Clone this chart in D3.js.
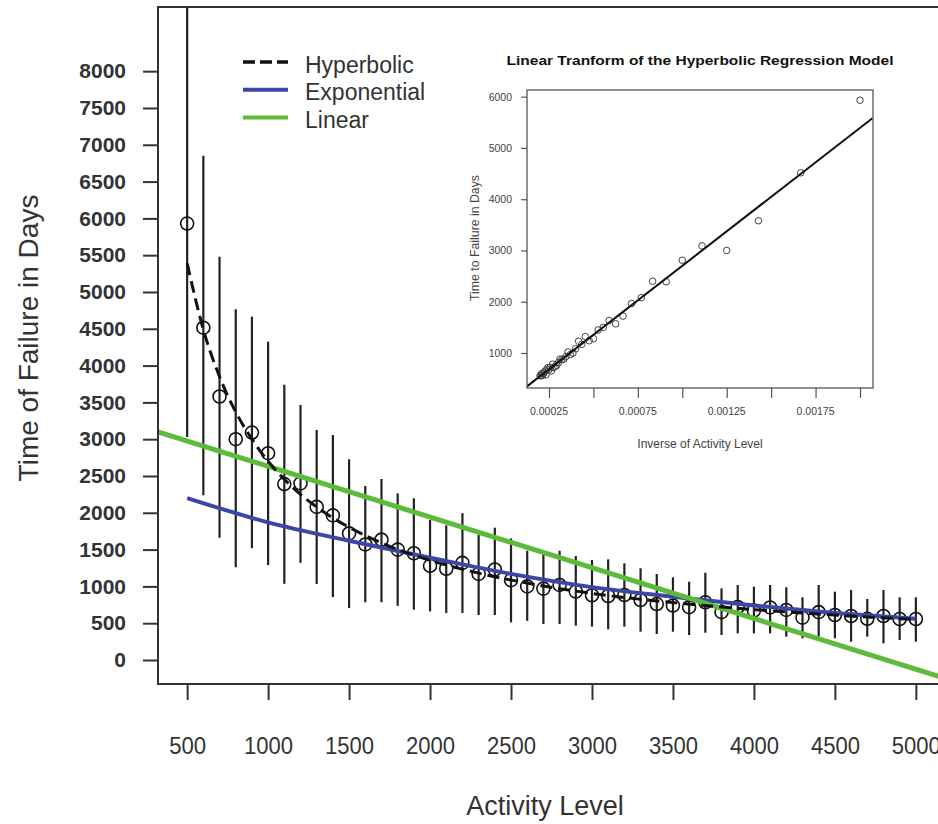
<!DOCTYPE html>
<html>
<head>
<meta charset="utf-8">
<script src="https://cdnjs.cloudflare.com/ajax/libs/d3/7.8.5/d3.min.js"></script>
<style>
  body { margin: 0; background: #fff; }
  svg { display: block; font-family: "Liberation Sans", Arial, sans-serif; }
</style>
</head>
<body>
<svg id="chart"></svg>
<script>
// activity levels and observed time to failure (mean, lower, upper of each bar)
const activity = [500, 600, 700, 800, 900, 1000, 1100, 1200, 1300, 1400, 1500, 1600, 1700, 1800, 1900,
    2000, 2100, 2200, 2300, 2400, 2500, 2600, 2700, 2800, 2900, 3000, 3100, 3200, 3300, 3400, 3500,
    3600, 3700, 3800, 3900, 4000, 4100, 4200, 4300, 4400, 4500, 4600, 4700, 4800, 4900, 5000]
const meanDays = [5930, 4515, 3580, 3000, 3090, 2810, 2390, 2400, 2080, 1965, 1720, 1570, 1635, 1500, 1450,
    1280, 1240, 1320, 1170, 1230, 1085, 1000, 970, 1020, 930, 880, 870, 883, 815, 760, 740,
    718, 784, 650, 720, 672, 714, 680, 576, 650, 611, 598, 560, 598, 557, 557]
const lowDays = [3030, 2240, 1660, 1260, 1520, 1290, 1035, 1320, 1033, 855, 705, 784, 784, 736, 684,
    660, 638, 638, 611, 611, 512, 532, 489, 489, 466, 453, 417, 453, 385, 353, 385,
    340, 371, 340, 362, 362, 362, 317, 295, 317, 295, 249, 317, 227, 272, 249]
const highDays = [8950, 6850, 5480, 4765, 4665, 4325, 3740, 3465, 3125, 3057, 2727, 2364, 2459, 2265, 2197,
    1902, 1830, 1995, 1698, 1798, 1653, 1485, 1427, 1485, 1413, 1359, 1368, 1313, 1246, 1168, 1123,
    1064, 1186, 974, 1019, 996, 1019, 988, 852, 1019, 928, 951, 829, 951, 852, 852]

// fitted curves
const hypX = [500, 600, 700, 800, 900, 1000, 1100, 1200, 1300, 1400, 1500, 1700, 2000, 2300, 2600, 3000, 3500, 4000, 4500, 5000]
const hypY = [5390, 4490, 3850, 3370, 3000, 2700, 2455, 2250, 2080, 1930, 1805, 1590, 1355, 1180, 1045, 905, 780, 685, 610, 550]
const expX = [500, 1000, 1500, 2000, 2500, 3000, 3500, 4000, 4500, 5000]
const expY = [2200, 1870, 1620, 1390, 1170, 990, 860, 740, 640, 560]
const linX = [320, 5180]
const linY = [3100, -250]

const xTicks = [500, 1000, 1500, 2000, 2500, 3000, 3500, 4000, 4500, 5000]
const yTicks = [0, 500, 1000, 1500, 2000, 2500, 3000, 3500, 4000, 4500, 5000, 5500, 6000, 6500, 7000, 7500, 8000]

const legendNames = ["Hyperbolic", "Exponential", "Linear"]
const legendColors = ["#111", "#3a47a6", "#5dba3b"]

// inset: inverse activity vs time, with its regression line
const insetXTicks = [0.00025, 0.0005, 0.00075, 0.001, 0.00125, 0.0015, 0.00175, 0.002]
const insetXLabels = [0.00025, 0.00075, 0.00125, 0.00175]
const insetYTicks = [1000, 2000, 3000, 4000, 5000, 6000]
const insetFitX = [0.000126, 0.00207]
const insetFitY = [349, 5580]

const width = 938,
    height = 824

const svg = d3.select("#chart")
    .attr("width", width)
    .attr("height", height)

const plot = { left: 158, right: 945, top: 7, bottom: 684 }

const x = d3.scaleLinear().domain([320, 5180]).range([plot.left, plot.right])
const y = d3.scaleLinear().domain([-326, 8872]).range([plot.bottom, plot.top])

svg.append("clipPath").attr("id", "clip")
    .append("rect")
    .attr("x", plot.left).attr("y", plot.top)
    .attr("width", plot.right - plot.left).attr("height", plot.bottom - plot.top)

const g = svg.append("g").attr("clip-path", "url(#clip)")

// error bars
g.selectAll(".bar")
    .data(activity)
    .enter()
    .append("line")
    .attr("x1", d => x(d))
    .attr("x2", d => x(d))
    .attr("y1", (d, i) => y(lowDays[i]))
    .attr("y2", (d, i) => y(highDays[i]))
    .attr("stroke", "#222")
    .attr("stroke-width", 2.2)

g.selectAll(".pt")
    .data(activity)
    .enter()
    .append("circle")
    .attr("cx", d => x(d))
    .attr("cy", (d, i) => y(meanDays[i]))
    .attr("r", 6.5)
    .attr("fill", "none")
    .attr("stroke", "#111")
    .attr("stroke-width", 1.6)

const line = d3.line().x(d => x(d[0])).y(d => y(d[1]))

g.append("path")
    .datum(d3.zip(expX, expY))
    .attr("d", line.curve(d3.curveMonotoneX))
    .attr("fill", "none")
    .attr("stroke", legendColors[1])
    .attr("stroke-width", 4)

g.append("path")
    .datum(d3.zip(linX, linY))
    .attr("d", line.curve(d3.curveLinear))
    .attr("fill", "none")
    .attr("stroke", legendColors[2])
    .attr("stroke-width", 5)

g.append("path")
    .datum(d3.zip(hypX, hypY))
    .attr("d", line.curve(d3.curveMonotoneX))
    .attr("fill", "none")
    .attr("stroke", legendColors[0])
    .attr("stroke-width", 3)
    .attr("stroke-dasharray", "12,6")

// frame
svg.append("path")
    .attr("d", `M${plot.right},${plot.top}H${plot.left}V${plot.bottom}H${plot.right}`)
    .attr("fill", "none")
    .attr("stroke", "#333")
    .attr("stroke-width", 2)

// axes
const xAxis = svg.append("g")
    .attr("transform", `translate(0,${plot.bottom})`)
    .call(d3.axisBottom(x).tickValues(xTicks).tickSize(16).tickPadding(0).tickFormat(d3.format("d")))
xAxis.select(".domain").remove()
xAxis.selectAll("line").attr("stroke", "#333").attr("stroke-width", 2)
xAxis.selectAll("text")
    .attr("y", 70)
    .attr("dy", 0)
    .attr("font-size", 23)
    .attr("fill", "#333")
    .attr("textLength", d => d < 1000 ? 37 : 49)
    .attr("lengthAdjust", "spacingAndGlyphs")

const yAxis = svg.append("g")
    .attr("transform", `translate(${plot.left},0)`)
    .call(d3.axisLeft(y).tickValues(yTicks).tickSize(15).tickPadding(0).tickFormat(d3.format("d")))
yAxis.select(".domain").remove()
yAxis.selectAll("line").attr("stroke", "#333").attr("stroke-width", 2)
yAxis.selectAll("text")
    .attr("x", -32)
    .attr("font-size", 21)
    .attr("font-weight", "bold")
    .attr("fill", "#333")

svg.append("text")
    .attr("x", 545)
    .attr("y", 815)
    .attr("text-anchor", "middle")
    .attr("font-size", 27)
    .attr("fill", "#333")
    .text("Activity Level")

svg.append("text")
    .attr("transform", "translate(38,338) rotate(-90)")
    .attr("text-anchor", "middle")
    .attr("font-size", 28)
    .attr("fill", "#333")
    .text("Time of Failure in Days")

// legend
const legend = svg.append("g")
legendNames.forEach((name, i) => {
    const ly = 62 + i * 27.7
    legend.append("line")
        .attr("x1", 243).attr("x2", 288)
        .attr("y1", ly).attr("y2", ly)
        .attr("stroke", legendColors[i])
        .attr("stroke-width", i === 0 ? 3.5 : 4)
        .attr("stroke-dasharray", i === 0 ? "12,5" : null)
    legend.append("text")
        .attr("x", 305)
        .attr("y", ly + 10.5)
        .attr("font-size", 23)
        .attr("fill", "#333")
        .text(name)
})

// inset chart
const inset = { left: 527, right: 873, top: 90, bottom: 388 }
const ix = d3.scaleLinear().domain([0.0001262, 0.0020732]).range([inset.left, inset.right])
const iy = d3.scaleLinear().domain([318, 6130]).range([inset.bottom, inset.top])

svg.append("text")
    .attr("x", 700)
    .attr("y", 64.5)
    .attr("text-anchor", "middle")
    .attr("font-size", 12.5)
    .attr("font-weight", "bold")
    .attr("fill", "#111")
    .attr("textLength", 387)
    .attr("lengthAdjust", "spacingAndGlyphs")
    .text("Linear Tranform of the Hyperbolic Regression Model")

svg.append("clipPath").attr("id", "iclip")
    .append("rect")
    .attr("x", inset.left).attr("y", inset.top)
    .attr("width", inset.right - inset.left).attr("height", inset.bottom - inset.top)

const ig = svg.append("g").attr("clip-path", "url(#iclip)")

ig.selectAll("circle")
    .data(activity)
    .enter()
    .append("circle")
    .attr("cx", d => ix(1 / d))
    .attr("cy", (d, i) => iy(meanDays[i]))
    .attr("r", 3.3)
    .attr("fill", "none")
    .attr("stroke", "#444")
    .attr("stroke-width", 1)

ig.append("line")
    .attr("x1", ix(insetFitX[0])).attr("y1", iy(insetFitY[0]))
    .attr("x2", ix(insetFitX[1])).attr("y2", iy(insetFitY[1]))
    .attr("stroke", "#111")
    .attr("stroke-width", 2)

svg.append("rect")
    .attr("x", inset.left).attr("y", inset.top)
    .attr("width", inset.right - inset.left).attr("height", inset.bottom - inset.top)
    .attr("fill", "none")
    .attr("stroke", "#555")
    .attr("stroke-width", 1.3)

const ixAxis = svg.append("g")
    .attr("transform", `translate(0,${inset.bottom})`)
    .call(d3.axisBottom(ix).tickValues(insetXTicks).tickSize(10).tickFormat(""))
ixAxis.select(".domain").remove()
ixAxis.selectAll("line").attr("stroke", "#555").attr("stroke-width", 1.2)

svg.append("g").selectAll("text")
    .data(insetXLabels)
    .enter()
    .append("text")
    .attr("x", d => ix(d))
    .attr("y", 415)
    .attr("text-anchor", "middle")
    .attr("font-size", 10.5)
    .attr("fill", "#444")
    .text(d => d3.format(".5f")(d))

const iyAxis = svg.append("g")
    .attr("transform", `translate(${inset.left},0)`)
    .call(d3.axisLeft(iy).tickValues(insetYTicks).tickSize(6).tickPadding(9).tickFormat(d3.format("d")))
iyAxis.select(".domain").remove()
iyAxis.selectAll("line").attr("stroke", "#555").attr("stroke-width", 1.2)
iyAxis.selectAll("text")
    .attr("font-size", 10.5)
    .attr("fill", "#444")
    .attr("font-family", "'Liberation Sans', Arial, sans-serif")

svg.append("text")
    .attr("x", 700)
    .attr("y", 447.5)
    .attr("text-anchor", "middle")
    .attr("font-size", 12)
    .attr("fill", "#444")
    .text("Inverse of Activity Level")

svg.append("text")
    .attr("transform", "translate(479,238) rotate(-90)")
    .attr("text-anchor", "middle")
    .attr("font-size", 12.3)
    .attr("fill", "#444")
    .text("Time to Failure in Days")
</script>
</body>
</html>
